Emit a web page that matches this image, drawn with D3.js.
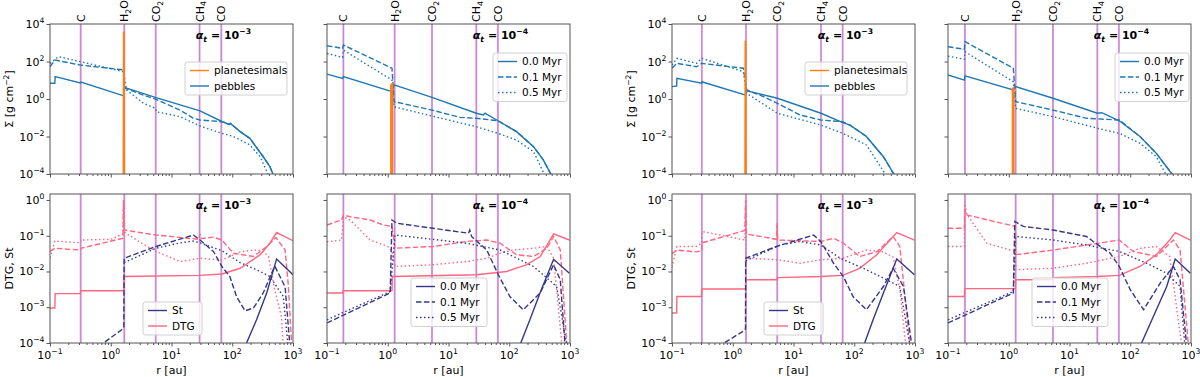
<!DOCTYPE html>
<html>
<head>
<meta charset="utf-8">
<script src="https://cdn.jsdelivr.net/npm/d3@7/dist/d3.min.js"></script>
<style>
  body { margin: 0; background: #fff; }
  text { font-family: "DejaVu Sans", sans-serif; fill: #000; }
</style>
</head>
<body>
<script>
// ---- data (pairs are [log10 r/au, log10 value]) ----
var times = ["0.0 Myr", "0.1 Myr", "0.5 Myr"];
var iceNames = ["C", "H2O", "CO2", "CH4", "CO"];

// ice line radii [au]
var iceA3 = [0.32, 1.67, 5.5, 29, 66];
var iceA4 = [0.186, 1.3, 5.35, 28.7, 65];
var iceB3 = [0.31, 1.65, 5.4, 28.4, 64.5];
var iceB4 = [0.19, 1.3, 5.35, 28.7, 65];

// surface density of pebbles / planetesimals
var pebA3_t0 = [[-1,0.84],[-0.92,0.84],[-0.915,1.19],[-0.5,0.86],[-0.49,0.9],[0.215,0.17],[0.225,0.62],[0.745,0.07],[1.47,-0.63],[1.83,-1.2],[1.95,-1.36],[1.97,-1.3],[2.13,-1.74],[2.29,-2.1],[2.51,-3.08],[2.62,-3.6],[2.68,-4.1]];
var pebA3_t1 = [[-1,1.72],[-0.92,2.08],[-0.5,1.81],[0.21,1.55],[0.225,0.59],[0.34,0.45],[0.536,0.21],[0.745,-0.02],[1.14,-0.59],[1.36,-1.03],[1.47,-1.12],[1.83,-1.21],[1.95,-1.36],[1.97,-1.3],[2.13,-1.74],[2.29,-2.1],[2.51,-3.08],[2.62,-3.6],[2.68,-4.1]];
var pebA3_t2 = [[-1,1.9],[-0.86,2.26],[-0.5,1.99],[0.21,1.46],[0.26,0.48],[0.54,-0.23],[0.74,-0.5],[0.75,-0.68],[1.14,-0.94],[1.47,-1.44],[1.83,-1.83],[2.02,-2.0],[2.29,-2.45],[2.46,-3.08],[2.6,-4.1]];
var planA3 = [[0.21,-5],[0.215,3.6],[0.22,-5]];

var pebA4_t0 = [[-1,1.33],[-0.742,1.1],[-0.73,1.19],[0.07,0.39],[0.103,0.75],[0.728,0.09],[1.458,-0.76],[1.573,-0.85],[1.6,-0.76],[1.815,-1.16],[2.12,-1.74],[2.4,-2.54],[2.56,-3.25],[2.7,-4.1]];
var pebA4_t1 = [[-1,2.84],[-0.742,2.7],[-0.73,2.88],[0.07,1.64],[0.103,-0.14],[0.728,-0.59],[1.19,-0.98],[1.458,-1.03],[1.815,-1.16],[2.12,-1.74],[2.4,-2.54],[2.56,-3.25],[2.7,-4.1]];
var pebA4_t2 = [[-1,2.43],[-0.742,2.22],[-0.73,2.61],[0.07,1.01],[0.103,-0.41],[0.728,-0.91],[1.458,-1.48],[1.815,-1.83],[2.12,-2.19],[2.4,-2.81],[2.59,-4.1]];
var planA4 = [[0.055,-5],[0.055,0.75],[0.075,0.8],[0.075,-5]];

var pebB3_t0 = [[-1,0.66],[-0.923,0.69],[-0.92,1.1],[-0.512,0.84],[-0.51,0.92],[0.213,0.21],[0.23,0.44],[0.734,0.04],[1.453,-0.76],[1.81,-1.26],[1.93,-1.39],[2.2,-2.0],[2.48,-3.08],[2.67,-4.1]];
var pebB3_t1 = [[-1,1.64],[-0.92,1.9],[-0.594,1.72],[-0.51,1.9],[0.174,1.64],[0.23,0.48],[0.45,0.21],[0.734,-0.23],[1.107,-0.85],[1.453,-1.12],[1.81,-1.21],[1.93,-1.39],[2.2,-2.0],[2.48,-3.08],[2.67,-4.1]];
var pebB3_t2 = [[-1,1.81],[-0.92,2.17],[-0.594,1.9],[-0.51,2.17],[0.174,1.46],[0.23,0.3],[0.734,-0.76],[1.453,-1.39],[1.81,-1.83],[2.2,-2.45],[2.53,-4.1]];
var planB3 = [[0.205,-5],[0.21,3.1],[0.215,-5]];

var pebB4_t0 = [[-1,1.28],[-0.73,1.01],[-0.72,1.23],[0.075,0.48],[0.114,0.66],[0.729,0.04],[1.458,-0.76],[1.53,-0.73],[1.82,-1.16],[2.16,-2.0],[2.43,-2.9],[2.71,-4.1]];
var pebB4_t1 = [[-1,2.79],[-0.73,2.65],[-0.72,3.06],[0.075,1.64],[0.114,-0.14],[0.729,-0.59],[1.28,-1.03],[1.82,-1.12],[2.16,-2.0],[2.43,-2.9],[2.71,-4.1]];
var pebB4_t2 = [[-1,2.29],[-0.73,2.12],[-0.72,2.52],[0.075,0.92],[0.114,-0.5],[0.729,-0.94],[1.458,-1.56],[1.82,-1.83],[2.16,-2.36],[2.43,-3.08],[2.6,-4.1]];
var planB4 = [[0.065,-5],[0.065,0.55],[0.08,0.59],[0.08,-5]];

// Stokes number and dust-to-gas ratio
var stA3_t0 = [[2.21,-4.1],[2.4,-3.35],[2.567,-2.6],[2.73,-1.65],[3,-2.09]];
var stA3_t1 = [[-0.2,-4.1],[0.18,-3.63],[0.215,-3.55],[0.22,-1.63],[0.745,-1.3],[1.36,-0.98],[1.47,-1.12],[1.69,-1.44],[1.83,-1.86],[1.96,-2.14],[2.07,-2.7],[2.21,-3.1],[2.35,-3.02],[2.51,-2.6],[2.7,-1.85],[2.87,-2.43],[2.95,-4.1]];
var stA3_t2 = [[0.22,-1.75],[0.745,-1.35],[1.14,-1.2],[1.36,-1.15],[1.47,-1.2],[1.83,-1.42],[2.13,-1.75],[2.46,-2.0],[2.62,-2.14],[2.84,-2.7],[2.92,-4.1]];
var dtgA3_t0 = [[-1,-3.02],[-0.92,-3.02],[-0.915,-2.62],[-0.5,-2.62],[-0.495,-2.54],[0.215,-2.54],[0.22,-2.14],[1.47,-2.11],[1.83,-2.07],[2.13,-1.91],[2.46,-1.53],[2.62,-1.21],[2.73,-0.91],[3,-1.14]];
var dtgA3_t1 = [[-1,-1.44],[-0.92,-1.35],[-0.5,-1.4],[-0.49,-1.35],[0.2,-1.07],[0.21,0],[0.225,-0.84],[0.745,-0.98],[1.45,-1.1],[1.47,-0.95],[1.49,-1.08],[1.69,-1.04],[1.83,-1.12],[2.02,-1.49],[2.35,-1.58],[2.57,-1.3],[2.72,-1.05],[2.87,-1.4],[2.92,-2.33],[2.98,-4.1]];
var dtgA3_t2 = [[-1,-1.62],[-0.92,-1.15],[-0.5,-1.2],[-0.49,-1.12],[0,-1.1],[0.2,-0.95],[0.21,-0.1],[0.225,-0.9],[0.5,-1.2],[0.745,-1.44],[1.14,-1.72],[1.47,-1.63],[1.83,-1.68],[2.13,-1.45],[2.35,-1.4],[2.5,-1.42],[2.6,-1.6],[2.7,-2.52],[2.81,-3.26],[2.84,-4.1]];

var stA4_t0 = [[2.166,-4.1],[2.34,-3.35],[2.506,-2.6],[2.73,-1.66],[2.99,-2.05]];
var stA4_t1 = [[-1,-3.44],[0.04,-2.6],[0.07,-0.56],[0.147,-0.65],[1.33,-0.93],[1.35,-0.84],[1.38,-1.02],[1.63,-1.4],[1.82,-2.09],[2.01,-2.7],[2.23,-3.07],[2.51,-2.6],[2.73,-1.81],[2.84,-2.23],[2.92,-4.1]];
var stA4_t2 = [[-1,-3.35],[0.04,-2.56],[0.12,-0.98],[1.3,-1.21],[1.85,-1.4],[2.4,-1.86],[2.78,-2.42],[2.95,-4.1]];
var dtgA4_t0 = [[-1,-2.6],[-0.742,-2.6],[-0.735,-2.54],[0.07,-2.54],[0.075,-2.14],[1.458,-2.09],[1.96,-2.0],[2.29,-1.81],[2.51,-1.58],[2.73,-0.95],[2.99,-1.12]];
var dtgA4_t1 = [[-1,-0.7],[-0.76,-0.56],[-0.73,-0.42],[-0.62,-0.47],[-0.29,-0.56],[-0.07,-0.7],[0.07,-0.74],[0.12,-1.35],[0.75,-1.3],[1.3,-1.16],[1.63,-1.12],[1.85,-1.21],[2.12,-1.53],[2.4,-1.58],[2.62,-1.35],[2.73,-1.02],[2.84,-1.4],[2.95,-4.1]];
var dtgA4_t2 = [[-1,-1.17],[-0.76,-1.12],[-0.73,-0.47],[-0.62,-0.56],[-0.29,-1.12],[0,-1.3],[0.07,-1.44],[0.12,-1.86],[0.75,-1.81],[1.3,-1.72],[1.63,-1.63],[1.85,-1.49],[2.07,-1.4],[2.4,-1.35],[2.62,-1.3],[2.73,-1.63],[2.87,-4.1]];

var stB3_t0 = [[2.15,-4.1],[2.31,-3.35],[2.48,-2.6],[2.7,-1.65],[2.99,-2.09]];
var stB3_t1 = [[-0.24,-4.1],[0.174,-3.67],[0.21,-3.6],[0.213,-1.63],[0.72,-1.3],[1.33,-0.98],[1.45,-1.16],[1.66,-1.77],[1.82,-2.14],[1.98,-2.7],[2.2,-3.07],[2.48,-2.42],[2.64,-1.91],[2.81,-2.42],[2.95,-4.1]];
var stB3_t2 = [[0.215,-1.7],[0.78,-1.26],[1.11,-1.16],[1.45,-1.26],[1.77,-1.63],[2.2,-1.95],[2.53,-2.23],[2.75,-2.42],[2.92,-4.1]];
var dtgB3_t0 = [[-1,-3.16],[-0.923,-3.16],[-0.92,-2.7],[-0.512,-2.7],[-0.51,-2.49],[0.213,-2.49],[0.215,-2.23],[0.73,-2.23],[0.735,-2.17],[1.453,-2.14],[1.81,-2.11],[2.09,-1.91],[2.37,-1.53],[2.59,-1.12],[2.7,-0.91],[2.99,-1.12]];
var dtgB3_t1 = [[-1,-1.5],[-0.92,-1.4],[-0.6,-1.45],[-0.51,-1.42],[-0.505,-1.2],[0.2,-0.85],[0.213,0],[0.225,-0.95],[0.72,-1.1],[0.73,-0.65],[0.74,-1.12],[1.45,-1.16],[1.66,-1.07],[1.82,-1.21],[2.09,-1.58],[2.37,-1.45],[2.64,-1.02],[2.75,-1.3],[2.92,-4.1]];
var dtgB3_t2 = [[-1,-1.88],[-0.92,-1.3],[-0.6,-1.3],[-0.51,-1.2],[-0.505,-0.88],[0.2,-1.12],[0.21,-0.2],[0.22,-1.63],[0.73,-1.67],[1.11,-1.77],[1.45,-1.67],[1.82,-1.63],[2.2,-1.4],[2.48,-1.45],[2.64,-1.6],[2.75,-2.5],[2.85,-4.1]];

var stB4_t0 = [[2.16,-4.1],[2.43,-3.07],[2.6,-2.42],[2.74,-1.65],[2.99,-2.05]];
var stB4_t1 = [[-1,-3.44],[0.075,-2.6],[0.1,-0.6],[0.24,-0.74],[0.73,-0.84],[1.28,-1.02],[1.39,-1.16],[1.67,-1.49],[1.82,-1.86],[2,-2.51],[2.22,-3.07],[2.49,-2.33],[2.71,-1.86],[2.82,-2.23],[2.93,-4.1]];
var stB4_t2 = [[-1,-3.35],[0.075,-2.56],[0.114,-1.02],[0.73,-1.12],[1.28,-1.26],[1.82,-1.44],[2.27,-1.77],[2.6,-2.05],[2.82,-2.42],[2.9,-4.1]];
var dtgB4_t0 = [[-1,-2.7],[-0.73,-2.7],[-0.725,-2.48],[0.11,-2.48],[0.115,-2.23],[0.73,-2.23],[0.735,-2.17],[1.458,-2.14],[1.82,-2.11],[2.16,-1.86],[2.43,-1.53],[2.65,-1.12],[2.74,-0.91],[2.99,-1.12]];
var dtgB4_t1 = [[-1,-0.79],[-0.73,-0.79],[-0.725,-0.28],[-0.69,-0.42],[0.11,-0.74],[0.115,-1.53],[0.73,-1.4],[1.28,-1.26],[1.82,-1.12],[2.05,-1.44],[2.43,-1.58],[2.71,-1.12],[2.82,-1.4],[2.96,-4.1]];
var dtgB4_t2 = [[-1,-1.3],[-0.73,-1.3],[-0.725,-0.05],[-0.69,-0.4],[-0.36,-1.21],[0.11,-1.44],[0.115,-1.95],[0.73,-1.91],[1.28,-1.77],[1.82,-1.58],[2.16,-1.35],[2.43,-1.3],[2.65,-1.58],[2.85,-4.1]];

var sigmaTicks = [1e-4, 1e-2, 1, 1e2, 1e4];
var dtgTicks = [1e-4, 1e-3, 1e-2, 1e-1, 1];
var rTicks = [0.1, 1, 10, 100, 1000];

// ---- layout ----
var W = 1200, H = 377;
var colX = [50, 327, 672, 948], pw = 243;
var rowY = [24, 194], rowH = [150, 149];
var cPeb = "#1f77b4", cPlan = "#ff7f0e", cSt = "#36378a", cDtg = "#ff6680";
var axisColor = "#555";
var dashes = [null, "5.5,2.4", "1.5,2.5"];
var fs = 11, fsSup = 7.7, fsLeg = 10.5;

var svg = d3.select("body").append("svg").attr("width", W).attr("height", H);
var defs = svg.append("defs");

// "10" with superscript exponent
function powLabel(sel, e) {
  sel.append("tspan").text("10");
  sel.append("tspan").attr("dy", -5).attr("font-size", fsSup).text(e < 0 ? "\u2212" + (-e) : e);
}

var panels = [
  {row: 0, col: 0, exp: -3, ice: iceA3, peb: [pebA3_t0, pebA3_t1, pebA3_t2], plan: planA3, leg: "kind", lx: 185, ly: 62, lw: 102},
  {row: 0, col: 1, exp: -4, ice: iceA4, peb: [pebA4_t0, pebA4_t1, pebA4_t2], plan: planA4, leg: "time", lx: 493, ly: 53, lw: 74},
  {row: 0, col: 2, exp: -3, ice: iceB3, peb: [pebB3_t0, pebB3_t1, pebB3_t2], plan: planB3, leg: "kind", lx: 805, ly: 62, lw: 102},
  {row: 0, col: 3, exp: -4, ice: iceB4, peb: [pebB4_t0, pebB4_t1, pebB4_t2], plan: planB4, leg: "time", lx: 1115, ly: 53, lw: 74},
  {row: 1, col: 0, exp: -3, ice: iceA3, st: [stA3_t0, stA3_t1, stA3_t2], dtg: [dtgA3_t0, dtgA3_t1, dtgA3_t2], leg: "kind", lx: 143, ly: 302, lw: 59},
  {row: 1, col: 1, exp: -4, ice: iceA4, st: [stA4_t0, stA4_t1, stA4_t2], dtg: [dtgA4_t0, dtgA4_t1, dtgA4_t2], leg: "time", lx: 411, ly: 278, lw: 76},
  {row: 1, col: 2, exp: -3, ice: iceB3, st: [stB3_t0, stB3_t1, stB3_t2], dtg: [dtgB3_t0, dtgB3_t1, dtgB3_t2], leg: "kind", lx: 764, ly: 302, lw: 59},
  {row: 1, col: 3, exp: -4, ice: iceB4, st: [stB4_t0, stB4_t1, stB4_t2], dtg: [dtgB4_t0, dtgB4_t1, dtgB4_t2], leg: "time", lx: 1032, ly: 278, lw: 76}
];

var minorR = [];
[0.1, 1, 10, 100].forEach(function(d) { for (var k = 2; k < 10; k++) minorR.push(d * k); });

panels.forEach(function(p, pi) {
  var ph = rowH[p.row];
  var x = d3.scaleLog().domain([0.1, 1000]).range([0, pw]);
  var y = d3.scaleLog().domain(p.row == 0 ? [1e-4, 1e4] : [1e-4, 1.47]).range([ph, 0]);
  var line = d3.line()
    .x(function(d) { return x(Math.pow(10, d[0])); })
    .y(function(d) { return y(Math.pow(10, d[1])); });

  var g = svg.append("g").attr("transform", "translate(" + colX[p.col] + "," + rowY[p.row] + ")");
  defs.append("clipPath").attr("id", "clip" + pi)
    .append("rect").attr("width", pw).attr("height", ph);
  var plot = g.append("g").attr("clip-path", "url(#clip" + pi + ")");

  // ice lines
  p.ice.forEach(function(r) {
    plot.append("line").attr("x1", x(r)).attr("x2", x(r)).attr("y1", 0).attr("y2", ph)
      .attr("stroke", "#ddaae4").attr("stroke-width", 2);
    plot.append("line").attr("x1", x(r)).attr("x2", x(r)).attr("y1", 0).attr("y2", ph)
      .attr("stroke", "#b262c4").attr("stroke-opacity", 0.7).attr("stroke-width", 0.8);
  });

  function curve(data, color, i, w) {
    plot.append("path").datum(data).attr("d", line)
      .attr("fill", "none").attr("stroke", color).attr("stroke-width", w || 1.4)
      .attr("stroke-dasharray", dashes[i]);
  }

  if (p.row == 0) {
    p.peb.forEach(function(d, i) { curve(d, cPeb, i); });
    curve(p.plan, cPlan, 0, 2);
  } else {
    p.dtg.forEach(function(d, i) { curve(d, cDtg, i); });
    p.st.forEach(function(d, i) { curve(d, cSt, i); });
  }

  // frame
  g.append("rect").attr("width", pw).attr("height", ph)
    .attr("fill", "none").attr("stroke", axisColor).attr("stroke-width", 1);

  // ticks
  var xMaj = g.append("g").attr("transform", "translate(0," + ph + ")")
    .call(d3.axisBottom(x).tickValues(rTicks).tickSize(3.5).tickFormat(""));
  var xMin = g.append("g").attr("transform", "translate(0," + ph + ")")
    .call(d3.axisBottom(x).tickValues(minorR).tickSize(2).tickFormat(""));
  var yMaj = g.append("g")
    .call(d3.axisLeft(y).tickValues(p.row == 0 ? sigmaTicks : dtgTicks).tickSize(3.5).tickFormat(""));
  [xMaj, xMin, yMaj].forEach(function(a) {
    a.select(".domain").remove();
    a.selectAll("line").attr("stroke", axisColor);
  });

  if (p.row == 1) {
    rTicks.forEach(function(v) {
      var t = g.append("text").attr("x", x(v)).attr("y", ph + 16)
        .attr("text-anchor", "middle").attr("font-size", fs);
      powLabel(t, Math.round(Math.log10(v)));
    });
    g.append("text").attr("x", pw / 2).attr("y", ph + 31).attr("text-anchor", "middle")
      .attr("font-size", fs).text("r [au]");
  }

  if (p.col % 2 == 0) {
    (p.row == 0 ? sigmaTicks : dtgTicks).forEach(function(v) {
      var t = g.append("text").attr("x", -5.5).attr("y", y(v) + 4)
        .attr("text-anchor", "end").attr("font-size", fs);
      powLabel(t, Math.round(Math.log10(v)));
    });
    var yl = g.append("text").attr("transform", "translate(-37," + (ph / 2) + ") rotate(-90)")
      .attr("text-anchor", "middle").attr("font-size", fs);
    if (p.row == 0) {
      yl.append("tspan").text("\u03a3 [g cm");
      yl.append("tspan").attr("dy", -4.5).attr("font-size", fsSup).text("\u22122");
      yl.append("tspan").attr("dy", 4.5).text("]");
    } else {
      yl.text("DTG, St");
    }
  }

  // ice line names above the top panels
  if (p.row == 0) {
    p.ice.forEach(function(r, k) {
      var t = g.append("text").attr("transform", "translate(" + (x(r) + 4) + ",-2) rotate(-90)")
        .attr("font-size", fs);
      var n = 0;
      iceNames[k].split(/(\d)/).forEach(function(s) {
        if (!s) return;
        if (/\d/.test(s)) {
          t.append("tspan").attr("dy", 2.8).attr("font-size", fsSup).text(s);
        } else {
          var ts = t.append("tspan").text(s);
          if (n > 0) ts.attr("dy", -2.8);
        }
        n++;
      });
    });
  }

  // alpha label
  var al = g.append("text").attr("x", pw * 0.6).attr("y", 15).attr("font-size", fs).attr("font-weight", "bold");
  al.append("tspan").attr("font-style", "italic").text("\u03b1");
  al.append("tspan").attr("dy", 2.8).attr("font-size", fsSup).attr("font-style", "italic").text("t");
  al.append("tspan").attr("dy", -2.8).text(" = 10");
  al.append("tspan").attr("dy", -5).attr("font-size", fsSup).text("\u2212" + (-p.exp));

  // legend
  var entries;
  if (p.leg == "kind") {
    entries = p.row == 0
      ? [{label: "planetesimals", color: cPlan, dash: null}, {label: "pebbles", color: cPeb, dash: null}]
      : [{label: "St", color: cSt, dash: null}, {label: "DTG", color: cDtg, dash: null}];
  } else {
    entries = times.map(function(t, i) { return {label: t, color: p.row == 0 ? cPeb : cSt, dash: dashes[i]}; });
  }
  drawLegend(p.lx, p.ly, p.lw, entries);
});

function drawLegend(lx, ly, lw, entries) {
  var lg = svg.append("g").attr("transform", "translate(" + lx + "," + ly + ")");
  lg.append("rect").attr("rx", 2.5).attr("ry", 2.5)
    .attr("width", lw).attr("height", entries.length * 15.5 + 2)
    .attr("fill", "#fff").attr("fill-opacity", 0.8).attr("stroke", "#d0d0d0").attr("stroke-width", 1);
  entries.forEach(function(e, i) {
    var yy = 8.5 + i * 15.5;
    lg.append("line").attr("x1", 5).attr("x2", 24).attr("y1", yy).attr("y2", yy)
      .attr("stroke", e.color).attr("stroke-width", 1.4).attr("stroke-dasharray", e.dash);
    lg.append("text").attr("x", 29).attr("y", yy + 3.8).attr("font-size", fsLeg).text(e.label);
  });
}
</script>
</body>
</html>
